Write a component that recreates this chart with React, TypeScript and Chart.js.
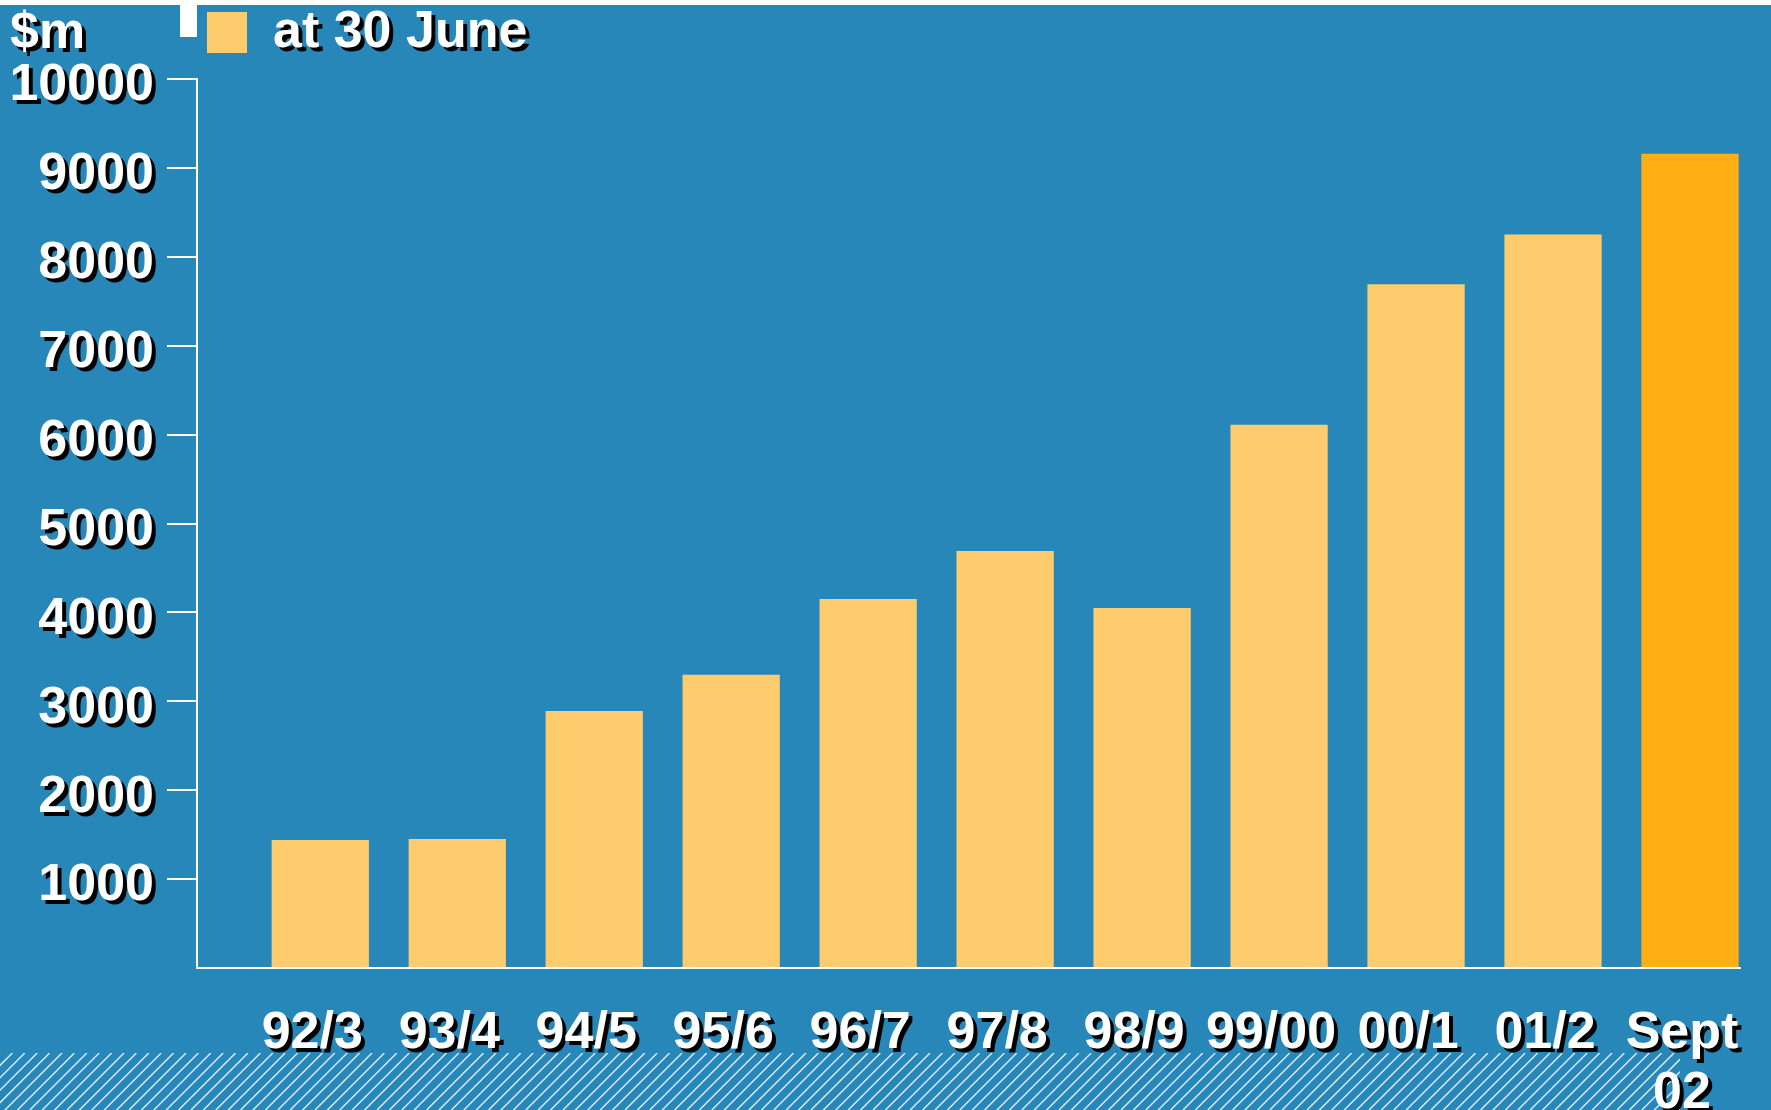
import React, { useEffect, useRef } from 'react';
import { Chart, registerables } from 'chart.js';

Chart.register(...registerables);

// ---- data ----
const categories = ['92/3', '93/4', '94/5', '95/6', '96/7', '97/8', '98/9', '99/00', '00/1', '01/2', 'Sept 02'];
const june30Values = [1440, 1450, 2890, 3300, 4150, 4690, 4050, 6110, 7690, 8250];
const septValue = 9160;
const seriesLabel = 'at 30 June';
const septLabel = 'Sept 02';
const unitLabel = '$m';
const yMax = 10000;
const yStep = 1000;

// ---- styles ----
const BLUE = '#2787B9';
const LIGHT = '#FECC6C';
const DARK = '#FFAF14';
const FONT = '"Liberation Sans", Arial, sans-serif';

const shadowTextPlugin = {
  id: 'shadowText',
  beforeInit(chart: any) {
    const ctx = chart.ctx;
    const orig = ctx.fillText;
    ctx.fillText = function (text: string, x: number, y: number, maxWidth?: number) {
      this.save();
      this.shadowColor = '#000';
      this.shadowOffsetX = 4;
      this.shadowOffsetY = 4;
      this.shadowBlur = 0;
      if (maxWidth === undefined) orig.call(this, text, x, y);
      else orig.call(this, text, x, y, maxWidth);
      this.restore();
    };
  },
};

const backgroundPlugin = {
  id: 'bgDecor',
  beforeDraw(chart: any) {
    const { ctx, width, height, chartArea } = chart;
    ctx.save();
    ctx.fillStyle = BLUE;
    ctx.fillRect(0, 0, width, height);
    ctx.fillStyle = '#ffffff';
    ctx.fillRect(0, 0, width, 5);
    ctx.fillRect(chartArea.left - 17, 0, 17, 37);
    // hatched strip at the bottom
    const top = 1053;
    ctx.beginPath();
    ctx.rect(0, top, 1680, height - top);
    ctx.clip();
    ctx.strokeStyle = 'rgba(225,238,248,0.95)';
    ctx.lineWidth = 1.5;
    ctx.beginPath();
    const h = height - top;
    for (let x = -h; x < width; x += 12.4) {
      ctx.moveTo(x, height);
      ctx.lineTo(x + h, top);
    }
    ctx.stroke();
    ctx.restore();
  },
  afterDraw(chart: any) {
    const { ctx } = chart;
    ctx.save();
    ctx.font = `bold 52px ${FONT}`;
    ctx.fillStyle = '#ffffff';
    ctx.textAlign = 'left';
    ctx.textBaseline = 'alphabetic';
    ctx.fillText(unitLabel, 10, 48);
    ctx.restore();
  },
};

const legendPlacePlugin = {
  id: 'legendPlace',
  afterLayout(chart: any) {
    const lg = chart.legend;
    if (lg) {
      lg.left = chart.chartArea.left + 10;
      lg.top = 6.5;
    }
  },
};

export default function App() {
  const canvasRef = useRef<HTMLCanvasElement | null>(null);

  useEffect(() => {
    if (!canvasRef.current) return;
    const chart = new Chart(canvasRef.current, {
      type: 'bar',
      data: {
        datasets: [
          {
            label: seriesLabel,
            data: june30Values.map((v, i) => ({ x: i, y: v })),
            backgroundColor: LIGHT,
            borderWidth: 0,
            grouped: false,
            barPercentage: 0.71,
            categoryPercentage: 1,
          } as any,
          {
            label: septLabel,
            data: [{ x: categories.length - 1, y: septValue }],
            backgroundColor: DARK,
            borderWidth: 0,
            grouped: false,
            barPercentage: 0.71,
            categoryPercentage: 1,
          } as any,
        ],
      },
      options: {
        animation: false,
        responsive: true,
        maintainAspectRatio: false,
        devicePixelRatio: 1,
        events: [],
        layout: { padding: { top: 17, right: 31, bottom: 0, left: 0 } },
        font: { family: FONT, weight: 'bold' },
        plugins: {
          tooltip: { enabled: false },
          title: { display: false },
          legend: {
            display: true,
            position: 'top',
            align: 'start',
            labels: {
              color: '#ffffff',
              font: { family: FONT, size: 52, weight: 'bold' },
              boxWidth: 40,
              boxHeight: 41,
              padding: 0,
              filter: (item: any) => item.datasetIndex === 0,
            },
          },
        },
        scales: {
          x: {
            type: 'linear',
            offset: false,
            min: -0.9,
            max: 10.365,
            grid: { display: false, drawTicks: false, offset: false },
            border: { display: true, color: '#ffffff', width: 2 },
            afterBuildTicks: (scale: any) => {
              scale.ticks = categories.map((_, i) => ({ value: i }));
            },
            afterFit: (scale: any) => {
              scale.height = 142;
              scale.paddingLeft = 0;
              scale.paddingRight = 0;
            },
            ticks: {
              autoSkip: false,
              maxRotation: 0,
              minRotation: 0,
              padding: 36,
              labelOffset: -8,
              color: '#ffffff',
              font: { family: FONT, size: 52, weight: 'bold', lineHeight: 1.15 },
              callback: (v: any) => {
                const c = categories[Math.round(Number(v))];
                return c ? c.split(' ') : '';
              },
            },
          },
          y: {
            type: 'linear',
            min: 0,
            max: yMax,
            grid: {
              display: true,
              drawOnChartArea: false,
              drawTicks: true,
              tickLength: 30,
              lineWidth: 2,
              color: (c: any) => (c.tick && c.tick.value === 0 ? 'rgba(0,0,0,0)' : '#ffffff'),
            },
            border: { display: true, color: '#ffffff', width: 2 },
            afterFit: (scale: any) => {
              scale.width = 197;
            },
            ticks: {
              stepSize: yStep,
              padding: 13,
              labelOffset: 7,
              color: '#ffffff',
              font: { family: FONT, size: 52, weight: 'bold' },
              callback: (v: any) => (Number(v) === 0 ? '' : String(v)),
            },
          },
        },
      } as any,
      plugins: [shadowTextPlugin, backgroundPlugin, legendPlacePlugin],
    });
    return () => chart.destroy();
  }, []);

  return (
    <div style={{ position: 'absolute', left: 0, top: 0, width: 1771, height: 1110 }}>
      <canvas ref={canvasRef} />
    </div>
  );
}
